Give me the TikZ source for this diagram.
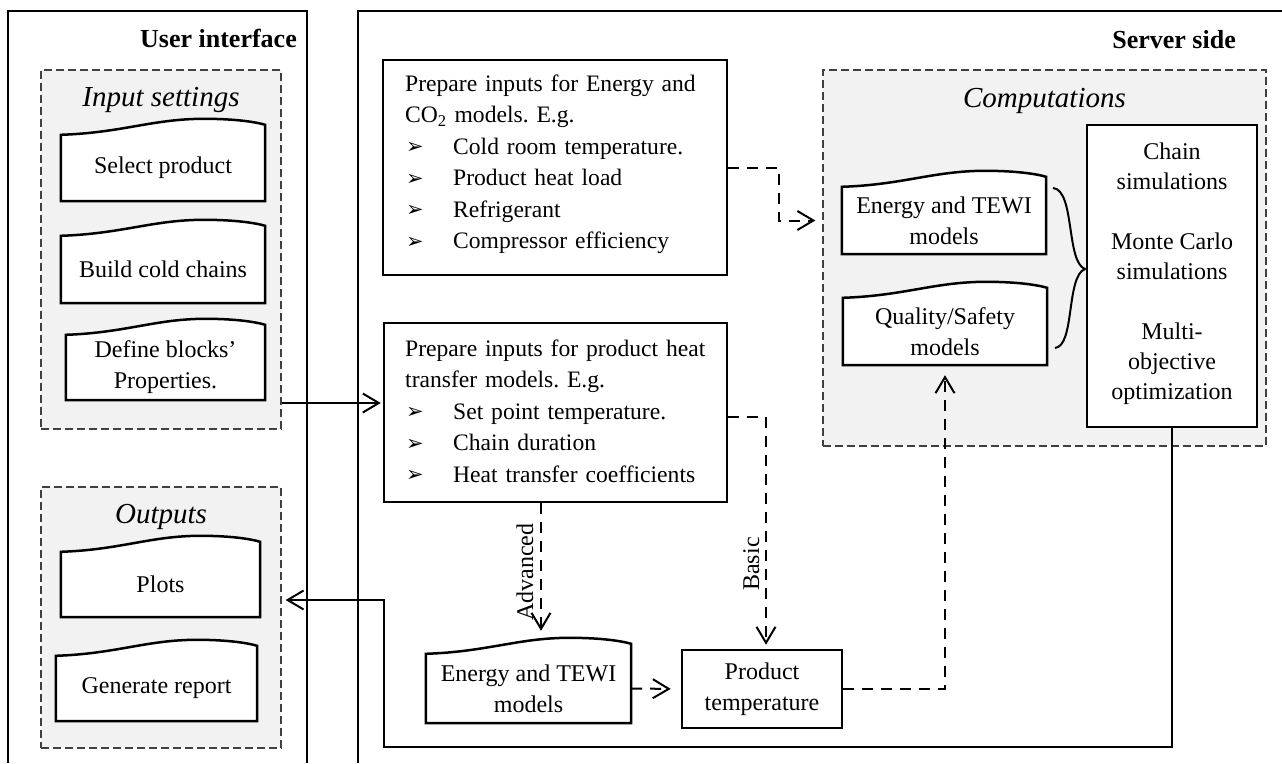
\documentclass[tikz,border=0pt]{standalone}
\usepackage{fontspec}
\setmainfont{Liberation Serif}
\newfontfamily\dejavu{DejaVu Sans}
\usetikzlibrary{arrows.meta,calc}
\pgfdeclarelayer{back}
\pgfdeclarelayer{mid}
\pgfsetlayers{back,mid,main}
\frenchspacing
\tikzset{
 outerline/.style={line width=2.6pt},
 grpbox/.style={draw=black!75, line width=1.3pt, dash pattern=on 8pt off 4pt, fill=black!5, inner sep=0pt},
 plainbox/.style={draw, line width=2.5pt, fill=white, inner sep=0pt, font=\fontsize{24}{31}\selectfont, align=center},
 wavenode/.style={inner sep=0pt, font=\fontsize{24}{31}\selectfont, align=center},
 waveline/.style={draw, line width=2.5pt, fill=white},
 arr/.style={line width=2pt, -{Straight Barb[length=16pt,width=19pt]}},
 darr/.style={arr, dash pattern=on 11pt off 8pt},
 body/.style={font=\fontsize{23.6}{31.5}\selectfont, inner sep=0pt},
 grptitle/.style={font=\fontsize{29}{34}\selectfont\itshape, inner sep=0pt, anchor=base},
 sidetitle/.style={font=\fontsize{26}{30}\selectfont\bfseries, inner sep=0pt, anchor=base east},
 vlabel/.style={font=\fontsize{24}{28}\selectfont, inner sep=0pt, rotate=90, anchor=base},
}
\newcommand\bul{\makebox[48pt][l]{\hspace{1pt}\raisebox{0.5pt}{\dejavu\fontsize{21}{21}\selectfont ➢}}}
\newcommand\wavebox[1]{%
 \path[waveline] let \p1=(#1.north west), \p2=(#1.south east) in
 (\x1,\y1) .. controls ({\x1+0.3*(\x2-\x1)},{\y1+2pt}) and ({\x1+0.45*(\x2-\x1)},{\y1+16pt}) .. ({\x1+0.7*(\x2-\x1)},{\y1+16pt})
 .. controls ({\x1+0.85*(\x2-\x1)},{\y1+16pt}) and ({\x1+0.95*(\x2-\x1)},{\y1+13pt}) .. (\x2,{\y1+10pt}) -- (\x2,\y2) -- (\x1,\y2) -- cycle;}
\begin{document}
\begin{tikzpicture}[x=1pt,y=-1pt]
\useasboundingbox (0,0) rectangle (1282,763);
\begin{pgfonlayer}{back}
 \fill[white] (0,0) rectangle (1282,763);
 \node[grpbox, minimum width=240pt, minimum height=359pt] (inbox) at (161,249.5) {};
 \node[grpbox, minimum width=240pt, minimum height=261pt] (outbox) at (161,617.5) {};
 \node[grpbox, minimum width=443pt, minimum height=376pt] (comp) at (1044.5,258) {};
\end{pgfonlayer}
% outer frames
\draw[outerline] (8,763) |- (307,11) -- (307,763);
\draw[outerline] (358,763) |- (1282,11);
% titles
\node[sidetitle] (uititle) at (297,47) {User interface};
\node[sidetitle] (sstitle) at (1236,48) {Server side};
\node[grptitle] (intitle) at (161,106) {Input settings};
\node[grptitle] (outtitle) at (161,523) {Outputs};
\node[grptitle] (comptitle) at (1044.5,107) {Computations};
% wave-topped boxes
\node[wavenode, minimum width=204pt, minimum height=66pt] (sel) at (163,168) {Select product};
\node[wavenode, minimum width=204pt, minimum height=67pt] (build) at (163,269.5) {Build cold chains};
\node[wavenode, minimum width=199pt, minimum height=65pt] (defb) at (165.5,367.5) {Define blocks’\\Properties.};
\node[wavenode, minimum width=199pt, minimum height=65pt] (plots) at (160.5,584.5) {Plots};
\node[wavenode, minimum width=201pt, minimum height=65pt] (gen) at (156.5,688.5) {Generate report};
\node[wavenode, minimum width=204pt, minimum height=67pt] (etv) at (944,220.5) {Energy and TEWI\\models};
\node[wavenode, minimum width=204pt, minimum height=67pt] (qs) at (945,331.5) {Quality/Safety\\models};
\node[wavenode, minimum width=205pt, minimum height=69pt] (etb) at (528.5,688.5) {Energy and TEWI\\models};
\begin{pgfonlayer}{mid}
 \wavebox{sel}\wavebox{build}\wavebox{defb}\wavebox{plots}\wavebox{gen}\wavebox{etv}\wavebox{qs}\wavebox{etb}
\end{pgfonlayer}
% plain boxes
\node[plainbox, minimum width=344pt, minimum height=215pt] (prep1) at (555,167.5) {};
\node[body, align=left, text width=330pt, anchor=north west] (prep1t) at (405,74.5) {Prepare inputs for Energy and\\CO\textsubscript{2} models. E.g.\\\bul Cold room temperature.\\\bul Product heat load\\\bul Refrigerant\\\bul Compressor efficiency};
\node[plainbox, minimum width=343pt, minimum height=179pt] (prep2) at (555.5,412.5) {};
\node[body, align=left, text width=330pt, anchor=north west] (prep2t) at (405,339.5) {Prepare inputs for product heat\\transfer models. E.g.\\\bul Set point temperature.\\\bul Chain duration\\\bul Heat transfer coefficients};
\node[plainbox, minimum width=170pt, minimum height=302pt] (chain) at (1172,276) {};
\node[body, align=center, anchor=north, font=\fontsize{24}{30}\selectfont] (chaint) at (1172,142.5) {Chain\\simulations\\[30pt]Monte Carlo\\simulations\\[30pt]Multi-\\objective\\optimization};
\node[plainbox, minimum width=160pt, minimum height=78pt] (pt) at (762,689) {Product\\temperature};
% connectors
\coordinate (p2in) at ([yshift=9.5pt]prep2.west);
\draw[arr, shorten >=2pt] (inbox.east |- p2in) -- (p2in);
\draw[darr, shorten >=7pt] (prep1.east) -- ++(51,0) |- (comp.west |- etv.west);
\coordinate (advx) at ([xshift=12.5pt,yshift=23pt]etb.north);
\draw[darr] (prep2.south -| advx) -- (advx);
\node[vlabel] (advl) at (533,572) {Advanced};
\coordinate (basx) at ([xshift=4pt]pt.north);
\draw[darr, shorten >=4pt] ([yshift=-4.5pt]prep2.east) -| (basx);
\node[vlabel] (basl) at (759,564) {Basic};
\draw[darr, shorten >=10pt] (etb.east) -- (pt.west);
\draw[darr, shorten >=10pt] (pt.east) -| (qs.south);
\coordinate (rc) at (384,747);
\coordinate (outin) at ([yshift=17.5pt]outbox.east);
\draw[arr, shorten >=4pt] (chain.south) |- (rc) |- (outin);
% brace
\draw[line width=2pt] (1053,188) .. controls (1075,190) and (1066,262) .. (1085,269) .. controls (1066,276) and (1075,346) .. (1055,348);
\end{tikzpicture}
\end{document}
